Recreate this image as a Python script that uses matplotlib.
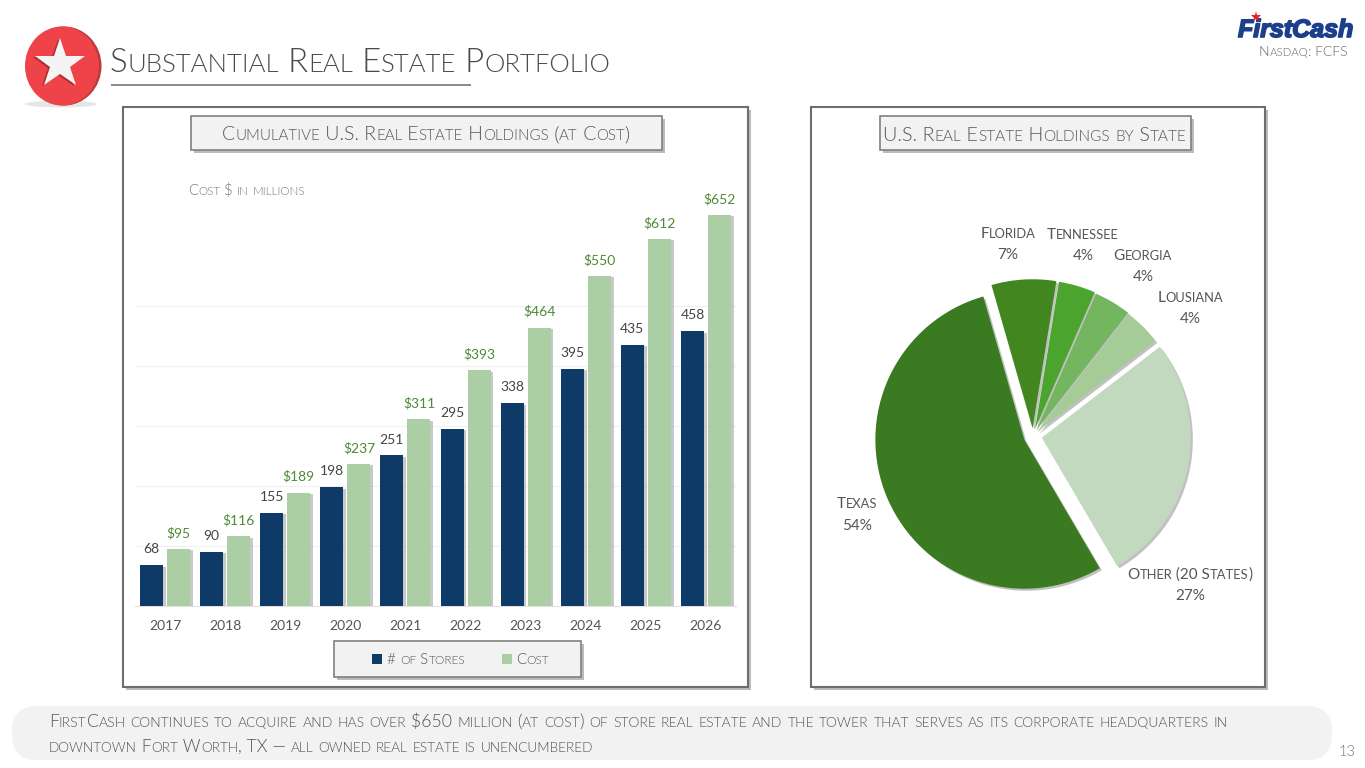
import matplotlib
matplotlib.use('Agg')
import matplotlib.pyplot as plt
import matplotlib.patheffects as pe
from matplotlib.patches import Rectangle, Ellipse, FancyBboxPatch

years = [2017, 2018, 2019, 2020, 2021, 2022, 2023, 2024, 2025, 2026]
stores = [68, 90, 155, 198, 251, 295, 338, 395, 435, 458]
cost = [95, 116, 189, 237, 311, 393, 464, 550, 612, 652]

states = ['Florida', 'Tennessee', 'Georgia', 'Lousiana', 'Other', 'Texas']
shares = [7, 4, 4, 4, 27, 54]
pie_colors = ['#41861f', '#4ba42e', '#74b560', '#a5cb97', '#c3d9bf', '#3a7a20']
explode = [0.052, 0.05, 0.045, 0.04, 0.06, 0.063]

NAVY = '#0e3a68'
LIGHT = '#abcea5'
GREY = '#555555'
FONT = 'Lato'

W, H = 1365, 768
fig = plt.figure(figsize=(W / 100, H / 100), dpi=100, facecolor='white')

# pixel canvas for all the slide furniture
bg = fig.add_axes([0, 0, 1, 1], zorder=0)
bg.set_xlim(0, W)
bg.set_ylim(H, 0)
bg.axis('off')
shadow = [pe.SimplePatchShadow(offset=(2, -2), shadow_rgbFace='#555555', alpha=0.4), pe.Normal()]


def smallcaps(x, y, s, size, color=GREY, ha='left', weight=300, ratio=0.78):
    # no small caps in matplotlib, so lay out the runs one after the other
    runs = []
    for ch in s:
        low = ch.islower()
        if runs and runs[-1][1] == low:
            runs[-1][0] += ch
        else:
            runs.append([ch, low])
    rend = fig.canvas.get_renderer()
    texts, total = [], 0
    for run, low in runs:
        t = bg.text(0, y, run.upper().replace(' ', '\u00a0'), fontsize=size * ratio if low else size,
                    color=color, family=FONT, weight=weight, va='baseline', ha='left', zorder=10)
        w = t.get_window_extent(rend).width
        texts.append((t, w))
        total += w
    pos = x - total / 2 if ha == 'center' else x
    for t, w in texts:
        t.set_x(pos)
        pos += w


def panel(x0, y0, x1, y1, edge='#6e6e6e', face='white', lw=1.5):
    bg.add_patch(Rectangle((x0, y0), x1 - x0, y1 - y0, facecolor=face, edgecolor=edge,
                           linewidth=lw, path_effects=shadow))


# header
bg.add_patch(Ellipse((61, 104), 72, 7, facecolor='#dcdcdc', edgecolor='none', alpha=0.7))
bg.add_patch(Ellipse((64, 66), 75, 79, facecolor='#b93a3c', edgecolor='none'))
bg.add_patch(Ellipse((62, 66), 74, 79, facecolor='#ee4348', edgecolor='none'))
bg.plot([58], [65], marker='*', markersize=38, color='#a83034', markeredgewidth=0)
bg.plot([60], [64], marker='*', markersize=38, color='#f4f4f4', markeredgewidth=0)
smallcaps(110, 72, 'Substantial Real Estate Portfolio', 23.8, color='#4a4a4a')
bg.plot([112, 470], [85, 85], color='#8a8a8a', linewidth=1.4)

# logo
logo = bg.text(1238, 37, 'FirstCash', fontsize=18, family='Liberation Sans',
               style='italic', weight='bold', color='#1d3f8b', zorder=10)
logo.set_path_effects([pe.withStroke(linewidth=1.2, foreground='#1d3f8b')])
bg.plot([1256], [17], marker='*', markersize=8, color='#e8202a', markeredgewidth=0, zorder=11)
smallcaps(1259, 56, 'Nasdaq: FCFS', 10, color='#666666', weight=300, ratio=0.82)

# panels
panel(123, 107, 748, 687)
panel(811, 107, 1265, 687)
panel(191, 116, 662, 150, face='#f2f2f2', edge='#808080', lw=1.2)
panel(880, 116, 1191, 150, face='#f2f2f2', edge='#808080', lw=1.2)
smallcaps(426, 140, 'Cumulative U.S. Real Estate Holdings (at Cost)', 14, ha='center')
smallcaps(1035, 141, 'U.S. Real Estate Holdings by State', 14.2, ha='center')
smallcaps(188, 195, 'Cost $ in millions', 10.7, color='#777777')

# bars
ax = fig.add_axes([135 / W, 1 - 606 / H, 601 / W, 426 / H], zorder=2)
ax.patch.set_alpha(0)
pos = list(range(len(years)))
bw = 0.383
off = 0.225
b1 = ax.bar([p - off for p in pos], stores, bw, color=NAVY, zorder=3)
b2 = ax.bar([p + off for p in pos], cost, bw, color=LIGHT, zorder=3)
for bar in b1.patches + b2.patches:
    bar.set_path_effects([pe.SimplePatchShadow(offset=(2, -1), shadow_rgbFace='#777777', alpha=0.4), pe.Normal()])
ax.bar_label(b1, padding=7, fontsize=10, color='#444444', family=FONT)
ax.bar_label(b2, labels=['$%d' % c for c in cost], padding=7, fontsize=10, color='#4f8a35', family=FONT)
ax.set_xlim(-0.5, 9.5)
ax.set_ylim(0, 710)
ax.set_xticks(pos)
ax.set_xticklabels(years, fontsize=10, color='#555555', family=FONT)
ax.set_yticks([0, 100, 200, 300, 400, 500])
ax.tick_params(axis='both', length=0, labelleft=False, pad=10)
ax.grid(axis='y', color='#f1f1f1', linewidth=0.8, zorder=0)
for s in ['top', 'left', 'right']:
    ax.spines[s].set_visible(False)
ax.spines['bottom'].set_color('#e2e2e2')

# legend box
panel(334, 641, 581, 677, face='#f2f2f2', edge='#808080', lw=1.2)
bg.add_patch(Rectangle((372, 654), 10, 10, facecolor=NAVY, edgecolor='none', zorder=10))
bg.add_patch(Rectangle((502, 654), 10, 10, facecolor=LIGHT, edgecolor='none', zorder=10))
smallcaps(387, 664, '# of Stores', 11)
smallcaps(516, 664, 'Cost', 11)

# pie
R = 149
cx, cy = 1033, 436
pie_ax = fig.add_axes([(cx - R * 1.3) / W, 1 - (cy + R * 1.3) / H, R * 2.6 / W, R * 2.6 / H], zorder=2)
wedges, _ = pie_ax.pie(shares, colors=pie_colors, startangle=106, counterclock=False, explode=explode,
                       radius=1, wedgeprops={'linewidth': 0})
pie_ax.set_xlim(-1.3, 1.3)
pie_ax.set_ylim(-1.3, 1.3)
for w in wedges:
    w.set_path_effects([pe.SimplePatchShadow(offset=(1.5, -1.5), shadow_rgbFace='#666666', alpha=0.4), pe.Normal()])

fs = 11
smallcaps(1008, 238, 'Florida', fs, ha='center', weight=400, ratio=0.84)
smallcaps(1008, 259, '7%', fs, ha='center', weight=400)
smallcaps(1083, 239, 'Tennessee', fs, ha='center', weight=400, ratio=0.84)
smallcaps(1083, 260, '4%', fs, ha='center', weight=400)
smallcaps(1143, 260, 'Georgia', fs, ha='center', weight=400, ratio=0.84)
smallcaps(1143, 281, '4%', fs, ha='center', weight=400)
smallcaps(1190, 302, 'Lousiana', fs, ha='center', weight=400, ratio=0.84)
smallcaps(1190, 323, '4%', fs, ha='center', weight=400)
smallcaps(857, 508, 'Texas', fs, ha='center', weight=400, ratio=0.84)
smallcaps(857, 530, '54%', fs, ha='center', weight=400)
smallcaps(1190, 579, 'Other (20 States)', fs, ha='center', weight=400, ratio=0.84)
smallcaps(1190, 600, '27%', fs, ha='center', weight=400)

# footer
bg.add_patch(FancyBboxPatch((12, 706), 1320, 54, boxstyle='round,pad=0,rounding_size=25', mutation_aspect=1,
                            facecolor='#f2f2f2', edgecolor='none'))
smallcaps(49, 727, 'FirstCash continues to acquire and has over $650 million (at cost) of store real estate and the tower that serves as its corporate headquarters in', 12.8)
smallcaps(49, 752, 'downtown Fort Worth, TX \u2014 all owned real estate is unencumbered', 12.6)
bg.text(1338, 756, '13', fontsize=10.5, color='#777777', family=FONT, weight=300)

fig.savefig('out.png', dpi=100)
plt.close()
